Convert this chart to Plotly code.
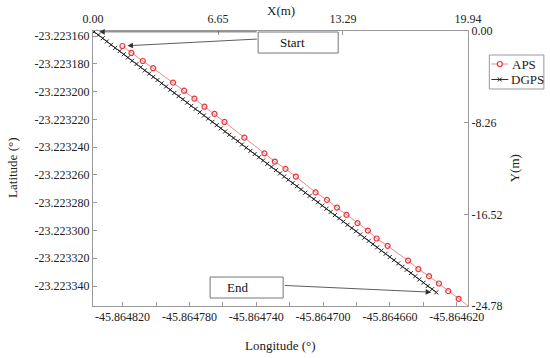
import plotly.graph_objects as go

# ---------------- data ----------------
aps_lon = [-45.8648201, -45.8648147, -45.8648079, -45.8648017, -45.8647898, -45.8647832,
           -45.8647770, -45.8647710, -45.8647650, -45.8647590, -45.8647471, -45.8647351,
           -45.8647289, -45.8647225, -45.8647163, -45.8647045, -45.8646977, -45.8646917,
           -45.8646860, -45.8646794, -45.8646732, -45.8646680, -45.8646614, -45.8646492,
           -45.8646430, -45.8646366, -45.8646307, -45.8646251, -45.8646189, -45.8646131]
aps_lat = [-23.2231672, -23.2231722, -23.2231780, -23.2231832, -23.2231936, -23.2231994,
           -23.2232051, -23.2232109, -23.2232161, -23.2232219, -23.2232332, -23.2232445,
           -23.2232504, -23.2232557, -23.2232612, -23.2232726, -23.2232780, -23.2232835,
           -23.2232888, -23.2232947, -23.2233001, -23.2233058, -23.2233111, -23.2233217,
           -23.2233278, -23.2233329, -23.2233382, -23.2233437, -23.2233492, -23.2233544]

# DGPS track, offsets in micro-degrees from its starting corner
dgps_lon0 = -45.864837
dgps_lat0 = -23.223157
dgps_dlon = [0.0, 2.5, 5.1, 7.6, 10.1, 12.6, 15.2, 17.7, 20.2, 22.7, 25.3, 27.8, 30.3, 32.9,
             35.4, 37.9, 40.4, 43.0, 45.5, 48.0, 50.5, 53.1, 55.6, 58.1, 60.6, 63.2, 65.7,
             68.2, 70.8, 73.3, 75.8, 78.3, 80.9, 83.4, 85.9, 88.4, 91.0, 93.5, 96.0, 98.6,
             101.1, 103.6, 106.1, 108.7, 111.2, 113.7, 116.2, 118.8, 121.3, 123.8, 126.4,
             128.9, 131.4, 133.9, 136.5, 139.0, 141.5, 144.0, 146.6, 149.1, 151.6, 154.1,
             156.7, 159.2, 161.7, 164.3, 166.8, 169.3, 171.8, 174.4, 176.9, 179.4, 181.9,
             184.5, 187.0, 189.5, 192.1, 194.6, 197.1, 199.6, 202.2, 204.7]
dgps_dlat = [0.0, 2.3, 4.6, 6.9, 9.3, 11.6, 13.9, 16.2, 18.5, 20.8, 23.2, 25.5, 27.8, 30.1,
             32.4, 34.7, 37.1, 39.4, 41.7, 44.0, 46.3, 48.6, 51.0, 53.3, 55.6, 57.9, 60.2,
             62.5, 64.8, 67.2, 69.5, 71.8, 74.1, 76.4, 78.7, 81.1, 83.4, 85.7, 88.0, 90.3,
             92.6, 95.0, 97.3, 99.6, 101.9, 104.2, 106.5, 108.9, 111.2, 113.5, 115.8, 118.1,
             120.4, 122.7, 125.1, 127.4, 129.7, 132.0, 134.3, 136.6, 139.0, 141.3, 143.6,
             145.9, 148.2, 150.5, 152.9, 155.2, 157.5, 159.8, 162.1, 164.4, 166.8, 169.1,
             171.4, 173.7, 176.0, 178.3, 180.6, 183.0, 185.3, 187.6]
dgps_lon = [dgps_lon0 + d * 1e-6 for d in dgps_dlon]
dgps_lat = [dgps_lat0 - d * 1e-6 for d in dgps_dlat]

lon_ticks = [-45.864820, -45.864800, -45.864780, -45.864760, -45.864740, -45.864720,
             -45.864700, -45.864680, -45.864660, -45.864640, -45.864620]
lon_labels = ["-45.864820", "", "-45.864780", "", "-45.864740", "", "-45.864700", "",
              "-45.864660", "", "-45.864620"]
lat_ticks = [-23.223160, -23.223180, -23.223200, -23.223220, -23.223240, -23.223260,
             -23.223280, -23.223300, -23.223320, -23.223340]
lat_labels = ["%.6f" % v for v in lat_ticks]
xm_ticks = [0.00, 6.65, 13.29, 19.94]
xm_labels = ["0.00", "6.65", "13.29", "19.94"]
ym_ticks = [0.00, -8.26, -16.52, -24.78]
ym_labels = ["0.00", "-8.26", "-16.52", "-24.78"]

series_names = ["APS", "DGPS"]

lon_range = [-45.8648377, -45.8646133]
lat_range = [-23.2233544, -23.2231564]
xm_range = [0.00, 19.94]
ym_range = [-24.78, 0.00]

# ---------------- figure ----------------
FONT = "Liberation Serif"
AXC = "#999999"
TXT = "#222222"
APS_LINE = "#f08a8a"
APS_MARK = "#e8343a"
DGPS_LINE = "#333333"

fig = go.Figure()
fig.add_trace(go.Scatter(
    x=aps_lon, y=aps_lat, name=series_names[0], mode="lines+markers", cliponaxis=False,
    line=dict(color=APS_LINE, width=1),
    marker=dict(symbol="circle-open", size=5, color=APS_MARK, line=dict(width=1.2))))
fig.add_trace(go.Scatter(
    x=dgps_lon, y=dgps_lat, name=series_names[1], mode="lines+markers", cliponaxis=False,
    line=dict(color=DGPS_LINE, width=1),
    marker=dict(symbol="x-thin-open", size=4, color="#222222", line=dict(width=1))))
# invisible carrier so the metric axes (top / right) are drawn
fig.add_trace(go.Scatter(x=xm_range, y=ym_range, xaxis="x2", yaxis="y2", mode="markers",
                         marker=dict(opacity=0), showlegend=False, hoverinfo="skip"))

common = dict(showgrid=False, zeroline=False, showline=True, linecolor=AXC, linewidth=1,
              ticks="inside", ticklen=4, tickcolor=AXC, automargin=False,
              tickfont=dict(family=FONT, size=12, color=TXT))

fig.update_layout(
    width=550, height=358,
    margin=dict(l=93, r=82.3, t=31, b=52, autoexpand=False),
    paper_bgcolor="white", plot_bgcolor="white",
    font=dict(family=FONT, size=12, color=TXT),
    xaxis=dict(range=lon_range, tickvals=lon_ticks, ticktext=lon_labels, **common),
    yaxis=dict(range=lat_range, tickvals=lat_ticks, ticktext=lat_labels, **common),
    xaxis2=dict(overlaying="x", side="top", range=xm_range, tickvals=xm_ticks,
                ticktext=xm_labels, anchor="y", ticklabelstandoff=2, **common),
    yaxis2=dict(overlaying="y", side="right", range=ym_range, tickvals=ym_ticks,
                ticktext=ym_labels, anchor="x", **common),
    showlegend=False,
)

# ---- reference pixel coordinates -> paper coordinates
def px(x):
    return (x - 93) / 374.7

def py(y):
    return (306 - y) / 275

shapes = []
for (x0, y0, x1, y1) in [(258, 32, 338, 53), (210, 277, 283, 298)]:
    shapes.append(dict(type="rect", xref="paper", yref="paper",
                       x0=px(x0), x1=px(x1), y0=py(y1), y1=py(y0),
                       line=dict(color="#777777", width=1), fillcolor="white", layer="above"))

# legend (drawn by hand to match the compact original box)
shapes.append(dict(type="rect", xref="paper", yref="paper", x0=px(489), x1=px(543.5),
                   y0=py(89), y1=py(55), line=dict(color=AXC, width=1), fillcolor="white"))
leg_rows = [64, 79.5]
shapes.append(dict(type="line", xref="paper", yref="paper", x0=px(491), x1=px(508),
                   y0=py(leg_rows[0]), y1=py(leg_rows[0]), line=dict(color=APS_LINE, width=1)))
shapes.append(dict(type="circle", xref="paper", yref="paper", x0=px(497), x1=px(502),
                   y0=py(leg_rows[0] + 2.5), y1=py(leg_rows[0] - 2.5),
                   line=dict(color=APS_MARK, width=1.2), fillcolor="white"))
shapes.append(dict(type="line", xref="paper", yref="paper", x0=px(491), x1=px(508),
                   y0=py(leg_rows[1]), y1=py(leg_rows[1]), line=dict(color=DGPS_LINE, width=1)))
shapes.append(dict(type="line", xref="paper", yref="paper", x0=px(497.5), x1=px(501.5),
                   y0=py(leg_rows[1] - 2), y1=py(leg_rows[1] + 2),
                   line=dict(color="#222222", width=1)))
shapes.append(dict(type="line", xref="paper", yref="paper", x0=px(497.5), x1=px(501.5),
                   y0=py(leg_rows[1] + 2), y1=py(leg_rows[1] - 2),
                   line=dict(color="#222222", width=1)))
fig.update_layout(shapes=shapes)

def label(x, y, text, size=13, angle=0, xanchor="center", color=TXT):
    return dict(xref="paper", yref="paper", x=px(x), y=py(y), text=text, textangle=angle,
                xanchor=xanchor, yanchor="middle", showarrow=False,
                font=dict(family=FONT, size=size, color=color))

ann = [
    label(292, 43, "Start", color="#111111"),
    label(237, 287.5, "End", color="#111111"),
    label(281, 11, "X(m)"),
    label(280, 345, "Longitude (°)"),
    label(12, 168, "Latitude (°)", angle=-90),
    label(514, 168, "Y(m)", angle=-90),
    label(510, leg_rows[0], series_names[0], size=13, xanchor="left"),
    label(508.5, leg_rows[1], series_names[1], size=13, xanchor="left"),
]
arrows = [
    (dgps_lon[0], dgps_lat[0], 164, 0),
    (aps_lon[0], aps_lat[0], 136, -7),
    (dgps_lon[-1], dgps_lat[-1], -153, -7),
    (aps_lon[-1], aps_lat[-1], -185, -19),
]
for (x, y, ax, ay) in arrows:
    ann.append(dict(xref="x", yref="y", x=x, y=y, ax=ax, ay=ay, text="",
                    showarrow=True, arrowhead=2, arrowsize=1.4, arrowwidth=0.8,
                    arrowcolor="#333333", standoff=5))
fig.update_layout(annotations=ann)

# remove the page's default 8px body margin so the 550x358 figure fills the window
fig.write_html("out.html", config={"displayModeBar": False},
               post_script="document.body.style.margin='0px';document.body.style.overflow='hidden';")
